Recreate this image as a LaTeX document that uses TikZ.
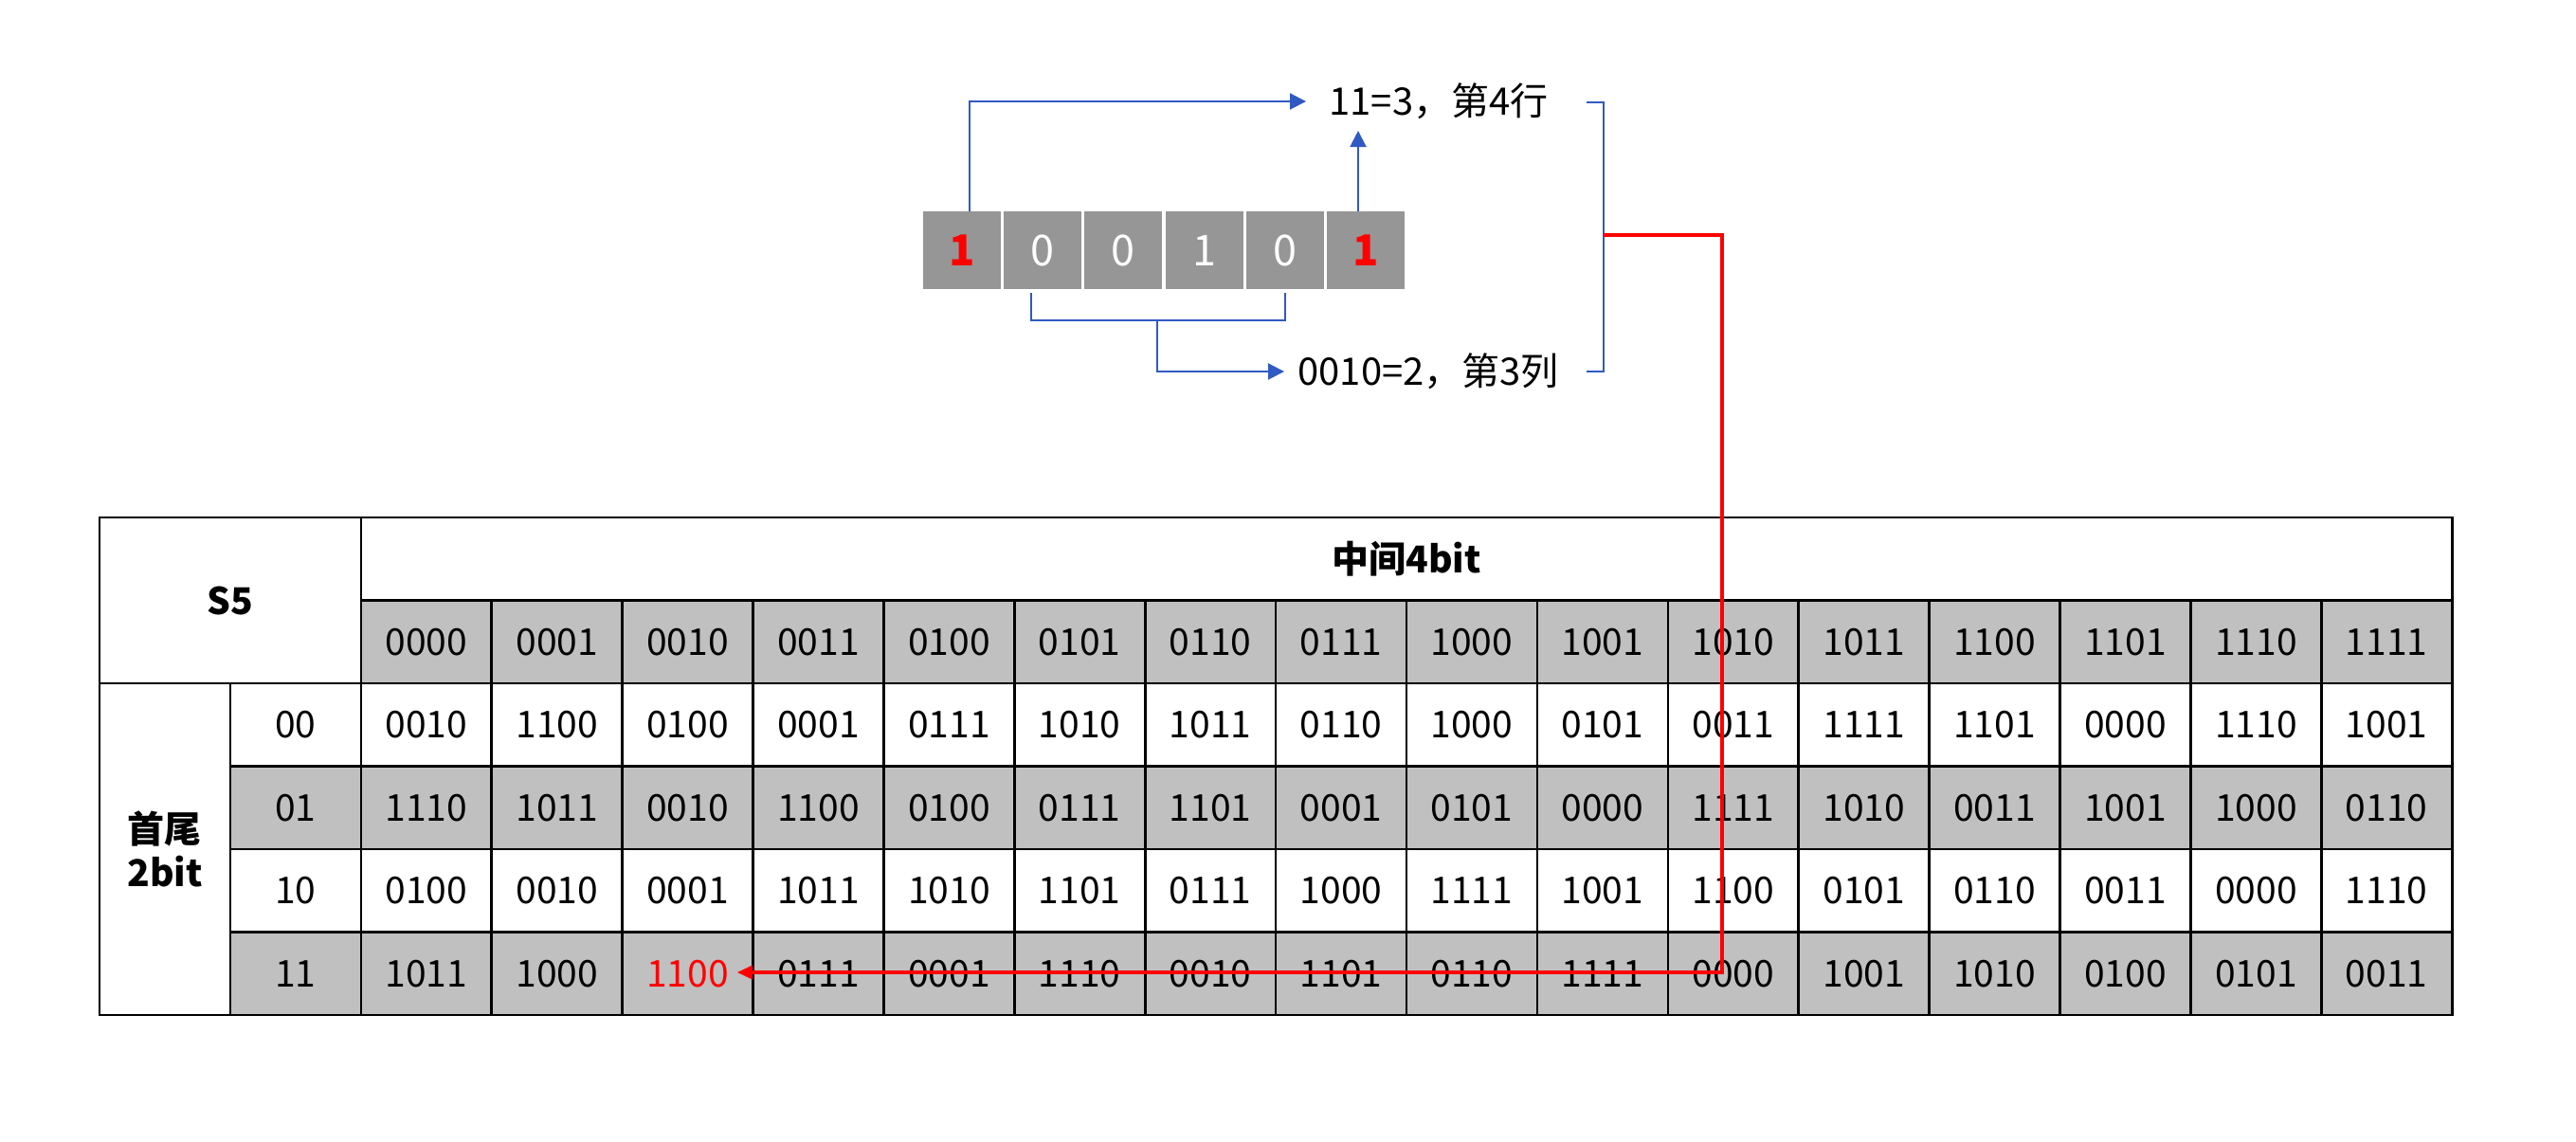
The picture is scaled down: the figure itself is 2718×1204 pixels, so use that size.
\documentclass[tikz,border=0pt]{standalone}
\usepackage{fontspec}
\setmainfont{Noto Sans CJK SC}
\usetikzlibrary{arrows.meta}
\definecolor{tgray}{RGB}{192,192,192}
\definecolor{bgray}{RGB}{150,150,150}
\definecolor{ablue}{RGB}{48,90,195}
\begin{document}
\begin{tikzpicture}[x=0.5pt,y=-0.5pt,
  cell/.style={draw=black,line width=1.3pt,minimum width=68.95pt,minimum height=43.75pt,inner sep=0pt,font=\fontsize{19.5}{23}\selectfont},
  bitbox/.style={fill=bgray,minimum width=41pt,minimum height=41pt,inner sep=0pt,font=\fontsize{22.5}{26}\selectfont},
  note/.style={inner sep=0pt,anchor=west,font=\fontsize{20}{24}\selectfont},
  bl/.style={draw=ablue,line width=1pt},
  blarrow/.style={bl,-{Triangle[length=8.5pt,width=8.5pt]}},
  redarrow/.style={draw=red,line width=1.7pt,-{Triangle[length=8pt,width=7pt]}}
]
\useasboundingbox (0,0) rectangle (2718,1204);

% ---------- bit boxes ----------
\node[bitbox,text=red,font=\fontsize{22.5}{26}\selectfont\bfseries] (b1) at (1015,264) {1};
\node[bitbox,text=white] (b2) at (1100.2,264) {0};
\node[bitbox,text=white] (b3) at (1185.4,264) {0};
\node[bitbox,text=white] (b4) at (1270.6,264) {1};
\node[bitbox,text=white] (b5) at (1355.8,264) {0};
\node[bitbox,text=red,font=\fontsize{22.5}{26}\selectfont\bfseries] (b6) at (1441,264) {1};

% ---------- notes ----------
\node[note] (t1) at (1402,107) {11=3，第4行};
\node[note] (t2) at (1369,392) {0010=2，第3列};

% ---------- blue connectors ----------
\draw[blarrow,shorten >=12pt] ([xshift=4pt]b1.north) |- (t1.west);
\coordinate (a6) at (1433,138);
\draw[blarrow] (b6.north -| a6) -- (a6);
\coordinate (bk) at (1221,338);
\draw[bl] ([xshift=-6pt,yshift=-2pt]b2.south) -- ([xshift=-6pt]b2.south |- bk) -- (b5.south |- bk) -- ([yshift=-2pt]b5.south);
\draw[blarrow,shorten >=7pt] (bk) |- (t2.west);
\coordinate (rb1) at (1692,108);
\coordinate (rb2) at (1692,392);
\coordinate (rm) at (1692,248);
\draw[bl] ([xshift=-9pt]rb1) -- (rb1) -- (rb2) -- ([xshift=-9pt]rb2);

% ---------- table ----------
\node[cell,font=\fontsize{19.5}{23}\selectfont\bfseries,minimum width=137.9pt,minimum height=87.5pt] (s5) at (242.9,633.5) {S5};
\node[cell,font=\fontsize{19.5}{23}\selectfont\bfseries,minimum width=1103.2pt] (mid) at (1484.2,589.75) {中间4bit};
\foreach \h [count=\j from 0] in {0000,0001,0010,0011,0100,0101,0110,0111,1000,1001,1010,1011,1100,1101,1110,1111}
  \node[cell,fill=tgray] (h-\j) at ({105+137.9*(\j+2.5)},677.25) {\h};
\node[cell,font=\fontsize{19.5}{23}\selectfont\bfseries,minimum height=175pt,align=center] (ht) at (173.95,896) {首尾\\2bit};
\foreach \lab [count=\r from 0] in {00,01,10,11}{
  \ifodd\r \def\fc{tgray}\else\def\fc{white}\fi
  \node[cell,fill=\fc] (rl-\r) at (311.85,{721+87.5*(\r+0.5)}) {\lab};
}
\foreach \row [count=\r from 0] in {
  {0010,1100,0100,0001,0111,1010,1011,0110,1000,0101,0011,1111,1101,0000,1110,1001},
  {1110,1011,0010,1100,0100,0111,1101,0001,0101,0000,1111,1010,0011,1001,1000,0110},
  {0100,0010,0001,1011,1010,1101,0111,1000,1111,1001,1100,0101,0110,0011,0000,1110},
  {1011,1000,1100,0111,0001,1110,0010,1101,0110,1111,0000,1001,1010,0100,0101,0011}}{
  \foreach \v [count=\j from 0] in \row {
    \ifodd\r \def\fc{tgray}\else\def\fc{white}\fi
    \def\tc{black}
    \ifnum\r=3 \ifnum\j=2 \def\tc{red}\fi\fi
    \node[cell,fill=\fc,text=\tc] (d-\r-\j) at ({105+137.9*(\j+2.5)},{721+87.5*(\r+0.5)}) {\v};
  }
}

% ---------- red connector ----------
\coordinate (rc) at (1817,1026);
\draw[redarrow] (rm) -| (rc) -- ([xshift=-9pt]d-3-2.east |- rc);
\end{tikzpicture}
\end{document}
